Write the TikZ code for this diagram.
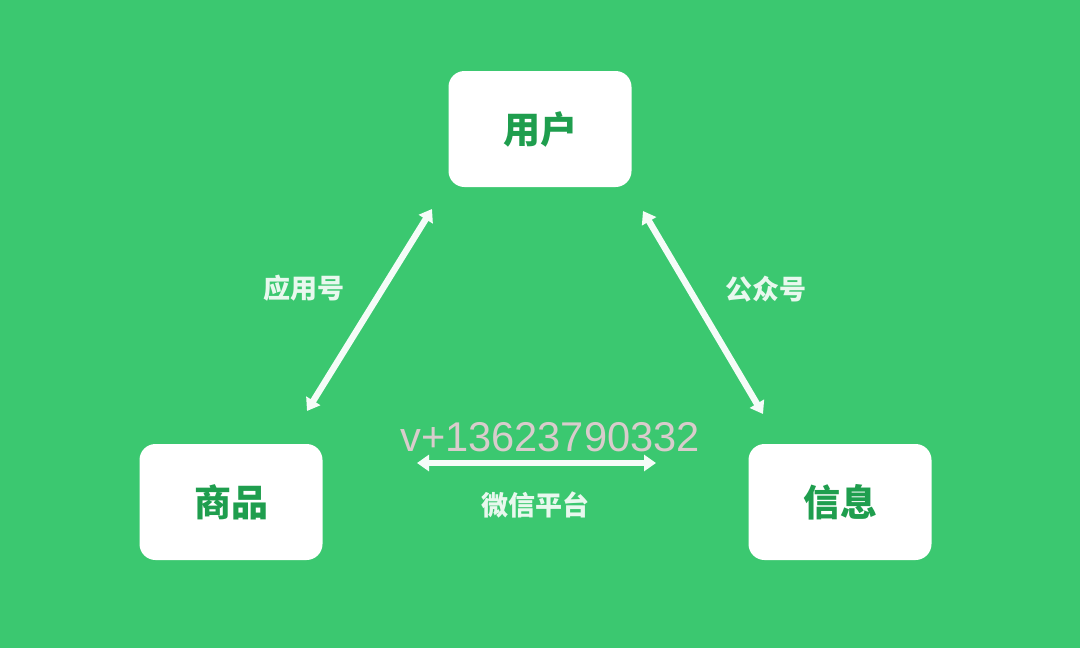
\documentclass[tikz,border=0pt]{standalone}
\usepackage{fontspec}
\setmainfont{Liberation Sans}
\newfontfamily\cjk{Noto Sans CJK SC}
\usetikzlibrary{arrows.meta}
\definecolor{bg}{HTML}{3BC870}
\definecolor{boxtext}{HTML}{1F9E4E}
\definecolor{wm}{HTML}{D9CCCC}
\tikzset{
  box/.style={draw=none,fill=white,rounded corners=8pt,minimum width=91.5pt,minimum height=58pt,inner sep=0pt,
    font=\cjk\bfseries\fontsize{18.5pt}{20pt}\selectfont,text=boxtext},
  lbl/.style={font=\cjk\bfseries\fontsize{13.5pt}{15pt}\selectfont,text=white!88!bg,inner sep=0pt},
  dbl/.style={white!95!bg,line width=3.2pt,{Triangle[length=6pt,width=8pt]}-{Triangle[length=6pt,width=8pt]}}
}
\begin{document}
\begin{tikzpicture}[x=0.5pt,y=-0.5pt]
\fill[bg] (0,0) rectangle (1080,648);
\useasboundingbox (0,0) rectangle (1080,648);
\node[box] (user) at (540,129) {用户};
\node[box] (goods) at (231,502) {商品};
\node[box] (info) at (840,502) {信息};
\coordinate (lt) at (432,209);
\coordinate (lb) at (307,411);
\coordinate (rt) at (643,211);
\coordinate (rb) at (763,414);
\coordinate (bl) at (417,463);
\coordinate (br) at (656,463);
\draw[dbl] (lt) -- (lb);
\draw[dbl] (rt) -- (rb);
\draw[dbl] (bl) -- (br);
\node[lbl] (l1) at (304,288) {应用号};
\node[lbl] (l2) at (766,289) {公众号};
\node[lbl] (l3) at (535,505) {微信平台};
\node[font=\fontsize{20.8pt}{22pt}\selectfont,text=wm,inner sep=0pt] (wmk) at (550,437) {v+13623790332};
\end{tikzpicture}
\end{document}
